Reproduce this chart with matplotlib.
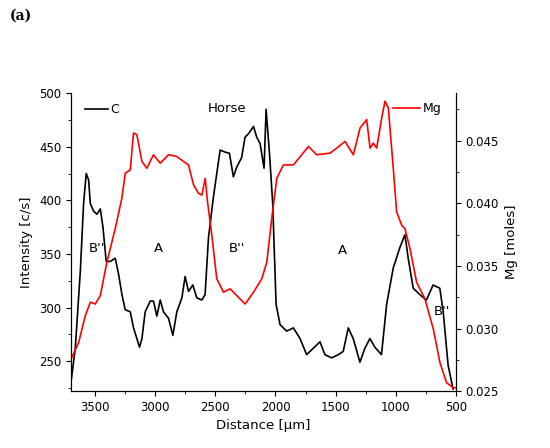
import matplotlib.pyplot as plt
from matplotlib.ticker import MultipleLocator

# C intensity profile (black)
c_dist = [3700, 3664, 3622, 3595, 3573, 3553, 3539, 3512, 3484, 3456, 3434, 3407, 3373, 3332,
          3304, 3276, 3249, 3207, 3180, 3152, 3130, 3110, 3083, 3041, 3014, 2986, 2958, 2931,
          2889, 2853, 2820, 2778, 2751, 2723, 2687, 2654, 2612, 2585, 2557, 2516, 2488, 2460,
          2419, 2383, 2350, 2322, 2281, 2253, 2225, 2183, 2156, 2128, 2095, 2078, 2050, 2023,
          1995, 1962, 1907, 1851, 1796, 1741, 1686, 1630, 1589, 1533, 1478, 1437, 1395, 1354,
          1298, 1257, 1215, 1174, 1119, 1076, 1021, 966, 924, 897, 855, 800, 745, 690, 634,
          606, 565, 524]
c_int = [230, 262, 334, 397, 425, 419, 397, 390, 387, 392, 375, 343, 343, 346,
         331, 312, 298, 296, 281, 271, 263, 271, 296, 306, 306, 292, 307, 296,
         290, 274, 296, 309, 329, 315, 321, 309, 307, 312, 365, 403, 425, 447,
         445, 444, 422, 431, 440, 459, 462, 469, 459, 453, 430, 485, 444, 397,
         303, 284, 278, 281, 271, 256, 262, 268, 256, 253, 256, 259, 281, 271,
         249, 262, 271, 263, 256, 303, 337, 356, 368, 346, 318, 312, 307, 321, 318,
         296, 246, 224]

# Mg profile (red)
mg_dist = [3700, 3636, 3581, 3539, 3498, 3456, 3401, 3332, 3277, 3249, 3207, 3180, 3152, 3110,
           3069, 3014, 2958, 2889, 2820, 2764, 2723, 2681, 2640, 2612, 2584, 2565, 2529, 2488,
           2432, 2377, 2322, 2252, 2183, 2114, 2072, 2031, 1989, 1934, 1851, 1782, 1726, 1657,
           1547, 1491, 1422, 1353, 1297, 1242, 1214, 1187, 1159, 1117, 1090, 1062, 1021, 993,
           951, 924, 882, 827, 758, 688, 633, 578, 522, 500]
mg_val = [0.02754, 0.02888, 0.03102, 0.03210, 0.03196, 0.03263, 0.03531, 0.03799, 0.04039,
          0.04240, 0.04267, 0.04562, 0.04548, 0.04334, 0.04280, 0.04388, 0.04321, 0.04388,
          0.04374, 0.04334, 0.04307, 0.04147, 0.04080, 0.04066, 0.04200, 0.04013, 0.03745,
          0.03397, 0.03290, 0.03317, 0.03263, 0.03196, 0.03290, 0.03397, 0.03531, 0.03879,
          0.04200, 0.04307, 0.04307, 0.04388, 0.04454, 0.04388, 0.04401, 0.04441, 0.04495,
          0.04388, 0.04602, 0.04669, 0.04441, 0.04481, 0.04441, 0.04682, 0.04816, 0.04762,
          0.04280, 0.03932, 0.03825, 0.03799, 0.03638, 0.03370, 0.03236, 0.02995, 0.02728,
          0.02567, 0.02527, 0.02527]

fig = plt.figure(figsize=(5.5, 4.48), dpi=100)
ax = fig.add_axes([0.129, 0.127, 0.700, 0.665])
ax2 = ax.twinx()

ax.plot(c_dist, c_int, color='black', linewidth=1.2)
ax2.plot(mg_dist, mg_val, color='red', linewidth=1.2)

ax.set_xlim(3700, 500)
ax.set_ylim(222, 500)
ax2.set_ylim(0.025, 0.0488)

ax.xaxis.set_major_locator(MultipleLocator(500))
ax.xaxis.set_minor_locator(MultipleLocator(250))
ax.yaxis.set_major_locator(MultipleLocator(50))
ax.yaxis.set_minor_locator(MultipleLocator(25))
ax2.yaxis.set_major_locator(MultipleLocator(0.005))
ax2.yaxis.set_minor_locator(MultipleLocator(0.0025))
ax2.yaxis.set_major_formatter(plt.FormatStrFormatter('%.3f'))

for a in (ax, ax2):
    a.tick_params(labelsize=8.5)
    a.spines['top'].set_visible(False)

ax.set_xlabel('Distance [µm]', fontsize=9.5)
ax.set_ylabel('Intensity [c/s]', fontsize=9.5)
ax2.set_ylabel('Mg [moles]', fontsize=9.5)

# legends and labels
ax.plot([3580, 3390], [485, 485], color='black', linewidth=1.2)
ax.text(3370, 485, 'C', fontsize=9, va='center')
ax.text(2400, 486, 'Horse', fontsize=9.5, ha='center', va='center')
ax2.plot([1020, 800], [0.0476, 0.0476], color='red', linewidth=1.2)
ax2.text(780, 0.0476, 'Mg', fontsize=9, va='center')
labels = [(3480, 355, "B''"), (2975, 355, 'A'), (2320, 355, "B''"), (1440, 353, 'A'), (620, 296, "B''")]
for x, y, s in labels:
    ax.text(x, y, s, fontsize=9.5, ha='center', va='center', zorder=5,
            bbox=dict(facecolor='none', edgecolor='none', pad=0))

fig.text(0.018, 0.955, '(a)', fontsize=10, fontweight='bold', family='serif')

fig.savefig('out.png', dpi=100)
